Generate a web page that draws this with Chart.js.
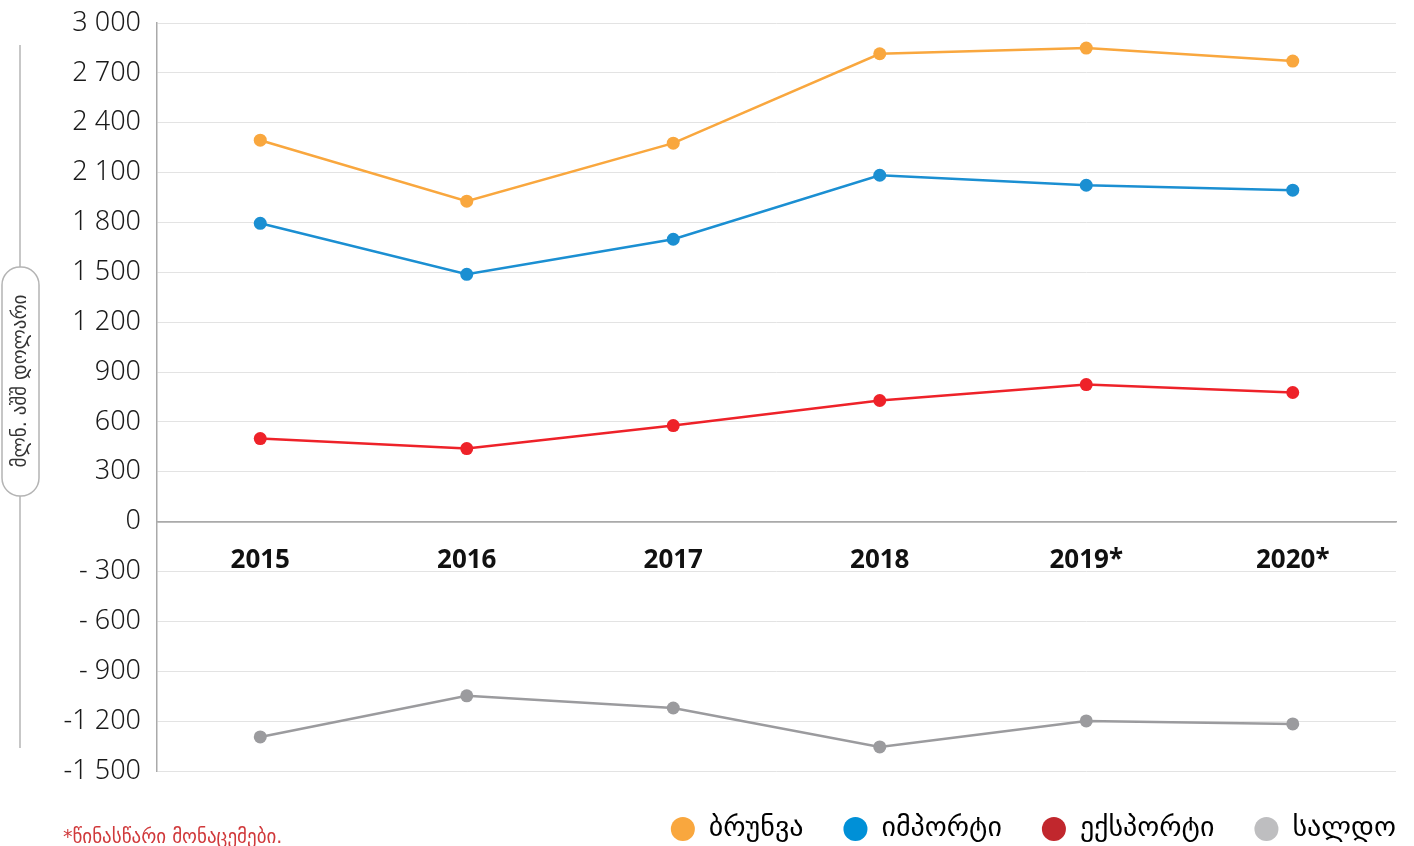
<!DOCTYPE html>
<html>
<head>
<meta charset="utf-8">
<script src="https://cdn.jsdelivr.net/npm/chart.js@4.4.1/dist/chart.umd.min.js"></script>
<style>
  html, body { margin: 0; padding: 0; background: #fff; }
  #wrap { width: 1414px; height: 846px; position: relative; }
</style>
</head>
<body>
<div id="wrap"><canvas id="trade-chart"></canvas></div>
<script>
const years = ['2015', '2016', '2017', '2018', '2019*', '2020*'];
const turnover = [2295, 1928, 2277, 2815, 2849, 2771];
const imports = [1795, 1488, 1699, 2084, 2024, 1994];
const exports = [500, 440, 578, 729, 825, 777];
const balance = [-1295, -1048, -1121, -1355, -1199, -1217];
const seriesNames = ['ბრუნვა', 'იმპორტი', 'ექსპორტი', 'სალდო'];
const lineColors = ['#f9a73e', '#1b8fd2', '#ee2229', '#9b9b9e'];
const legendColors = ['#f9a73e', '#0090d7', '#c1272d', '#bebec0'];
const yMin = -1500, yMax = 3000, yStep = 300;

const legendPad = 40;

function fmt(v) {
    const abs = Math.abs(v);
    const s = abs.toString().replace(/\B(?=(\d{3})+(?!\d))/g, ' ');
    if (v < 0) return (abs < 1000 ? '- ' : '-') + s;
    return s;
}

// titulo do eixo y e nota de rodape
const decor = {
    id: 'decor',
    afterLayout(chart) {
        // legenda encostada na borda direita e um pouco mais baixa
        const lg = chart.legend;
        if (lg) {
            lg.right += legendPad;
            lg.top += 4;
            lg.bottom += 4;
        }
    },
    afterDraw(chart) {
        const c = chart.ctx;
        c.save();
        c.strokeStyle = '#b4b4b4';
        c.lineWidth = 1.5;
        c.beginPath();
        c.moveTo(20, 45);
        c.lineTo(20, 748);
        c.stroke();

        c.beginPath();
        c.roundRect(2, 267, 37, 229, 18);
        c.fillStyle = '#fff';
        c.fill();
        c.stroke();

        c.translate(21, 381);
        c.rotate(-Math.PI / 2);
        c.fillStyle = '#333';
        c.font = '19px "DejaVu Sans"';
        c.textAlign = 'center';
        c.textBaseline = 'middle';
        c.fillText('მლნ. აშშ დოლარი', 0, 0);
        c.restore();

        c.save();
        c.fillStyle = '#d0393b';
        c.font = '19px "DejaVu Sans"';
        c.textBaseline = 'middle';
        c.fillText('*წინასწარი მონაცემები.', 63, 838);
        c.restore();
    }
};

const datasets = [turnover, imports, exports, balance].map((d, i) => ({
    label: seriesNames[i],
    data: d,
    borderColor: lineColors[i],
    backgroundColor: lineColors[i],
    borderWidth: 2.5,
    pointRadius: 6.5,
    pointHoverRadius: 6.5,
    pointBorderWidth: 0,
    tension: 0
}));

new Chart(document.getElementById('trade-chart'), {
    type: 'line',
    data: { labels: years, datasets: datasets },
    plugins: [decor],
    options: {
        responsive: true,
        maintainAspectRatio: false,
        animation: false,
        layout: { padding: { top: 23, right: 18, left: 0, bottom: -3 } },
        scales: {
            x: {
                position: { y: 0 },
                offset: true,
                grid: { display: false },
                border: { color: '#aaa', width: 1.5 },
                ticks: {
                    color: '#111',
                    padding: 15,
                    font: { family: '"Noto Sans"', size: 26, weight: 'bold' }
                }
            },
            y: {
                min: yMin,
                max: yMax,
                afterFit: (scale) => {
                    scale.width = 157;
                    scale.paddingTop = 0;
                    scale.paddingBottom = 0;
                },
                grid: {
                    color: (ctx) => ctx.tick && ctx.tick.value === 0 ? '#aaa' : '#e3e3e3',
                    lineWidth: (ctx) => ctx.tick && ctx.tick.value === 0 ? 1.5 : 1,
                    drawTicks: false
                },
                border: { color: '#aaa', width: 1.5 },
                ticks: {
                    stepSize: yStep,
                    padding: 16,
                    color: '#1a1a1a',
                    font: { family: '"Noto Sans"', size: 27, weight: 300 },
                    callback: (v) => fmt(v)
                }
            }
        },
        plugins: {
            tooltip: { enabled: false },
            legend: {
                position: 'bottom',
                align: 'end',
                labels: {
                    usePointStyle: true,
                    boxWidth: 24,
                    boxHeight: 17,
                    padding: legendPad,
                    color: '#111',
                    font: { family: '"DejaVu Sans"', size: 28 },
                    generateLabels: (chart) => seriesNames.map((n, i) => ({
                        text: n,
                        fillStyle: legendColors[i],
                        strokeStyle: legendColors[i],
                        lineWidth: 0,
                        pointStyle: 'circle',
                        datasetIndex: i,
                        hidden: false
                    }))
                }
            }
        }
    }
});
</script>
</body>
</html>
